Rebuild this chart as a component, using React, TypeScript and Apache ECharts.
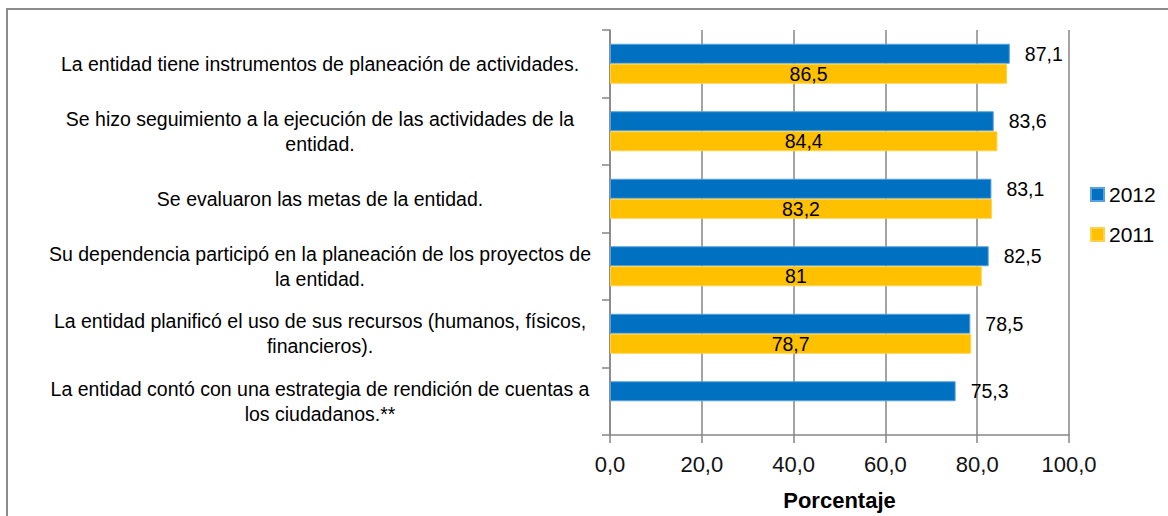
import React, { useEffect, useRef } from "react";
import * as echarts from "echarts";

const categories: string[] = [
  "La entidad tiene instrumentos de planeación de actividades.",
  "Se hizo seguimiento a la ejecución de las actividades de la\nentidad.",
  "Se evaluaron las metas de la entidad.",
  "Su dependencia participó en la planeación de los proyectos de\nla entidad.",
  "La entidad planificó el uso de sus recursos (humanos, físicos,\nfinancieros).",
  "La entidad contó con una estrategia de rendición de cuentas a\nlos ciudadanos.**",
];
const values2012: (number | null)[] = [87.1, 83.6, 83.1, 82.5, 78.5, 75.3];
const values2011: (number | null)[] = [86.5, 84.4, 83.2, 81, 78.7, null];
const seriesNames = ["2012", "2011"];
const xTicks = { min: 0, max: 100, interval: 20 };
const axisName = "Porcentaje";

const SANS = "'Liberation Sans', Arial, sans-serif";
const fmt = (v: number) => v.toFixed(1).replace(".", ",");
const fmtLabel = (v: number) => String(v).replace(".", ",");

export default function App() {
  const ref = useRef<HTMLDivElement>(null);
  useEffect(() => {
    if (!ref.current) return;
    const chart = echarts.init(ref.current, undefined, { renderer: "svg" });
    const gray = "#868686";
    chart.setOption({
      animation: false,
      backgroundColor: "#ffffff",
      graphic: [
        {
          type: "rect",
          shape: { x: 7, y: 9, width: 1300, height: 700 },
          style: { fill: "none", stroke: "#8c8c8c", lineWidth: 2 },
          silent: true,
        },
      ],
      legend: {
        orient: "vertical",
        left: 1090,
        top: 184,
        padding: 0,
        itemWidth: 13,
        itemHeight: 13,
        itemGap: 19,
        icon: "rect",
        textStyle: { fontFamily: SANS, fontSize: 21, color: "#000" },
        data: seriesNames,
      },
      grid: { left: 610, right: 99, top: 30, bottom: 78, containLabel: false },
      xAxis: {
        type: "value",
        min: xTicks.min,
        max: xTicks.max,
        interval: xTicks.interval,
        name: axisName,
        nameLocation: "middle",
        nameGap: 54,
        nameTextStyle: { fontFamily: SANS, fontSize: 22, fontWeight: "bold", color: "#000" },
        axisLine: { show: true, lineStyle: { color: gray, width: 1.5 } },
        axisTick: { show: true, length: 8, lineStyle: { color: gray, width: 1.5 } },
        splitLine: { show: true, lineStyle: { color: gray, width: 1.5 } },
        axisLabel: {
          formatter: (v: number) => fmt(v),
          fontFamily: SANS,
          fontSize: 22,
          color: "#111",
          margin: 18,
        },
      },
      yAxis: {
        type: "category",
        inverse: true,
        data: categories,
        axisLine: { show: true, lineStyle: { color: gray, width: 1.5 } },
        axisTick: { show: true, length: 8, lineStyle: { color: gray, width: 1.5 } },
        axisLabel: {
          align: "right",
          margin: 18,
          formatter: (v: string) =>
            v
              .split("\n")
              .map((l) => `{a|${l}}`)
              .join("\n"),
          rich: {
            a: {
              width: 544,
              align: "center",
              fontFamily: SANS,
              fontSize: 19.5,
              lineHeight: 25,
              color: "#000",
            },
          },
        },
      },
      series: [
        {
          name: seriesNames[0],
          type: "bar",
          data: values2012,
          barWidth: 20,
          barGap: "0%",
          itemStyle: { color: "#0070C0", borderColor: "#5aa0dc", borderWidth: 1 },
          label: {
            show: true,
            position: "right",
            distance: 15,
            formatter: (p: any) => fmtLabel(p.value),
            fontFamily: SANS,
            fontSize: 19.5,
            color: "#000",
          },
        },
        {
          name: seriesNames[1],
          type: "bar",
          data: values2011,
          barWidth: 20,
          barGap: "0%",
          itemStyle: { color: "#FFC000", borderColor: "#ffd24d", borderWidth: 1 },
          label: {
            show: true,
            position: "inside",
            formatter: (p: any) => fmtLabel(p.value),
            fontFamily: SANS,
            fontSize: 19.5,
            color: "#000",
          },
        },
      ],
    });
    return () => chart.dispose();
  }, []);
  return (
    <div
      ref={ref}
      style={{ position: "absolute", left: 0, top: 0, width: 1168, height: 516 }}
    />
  );
}
